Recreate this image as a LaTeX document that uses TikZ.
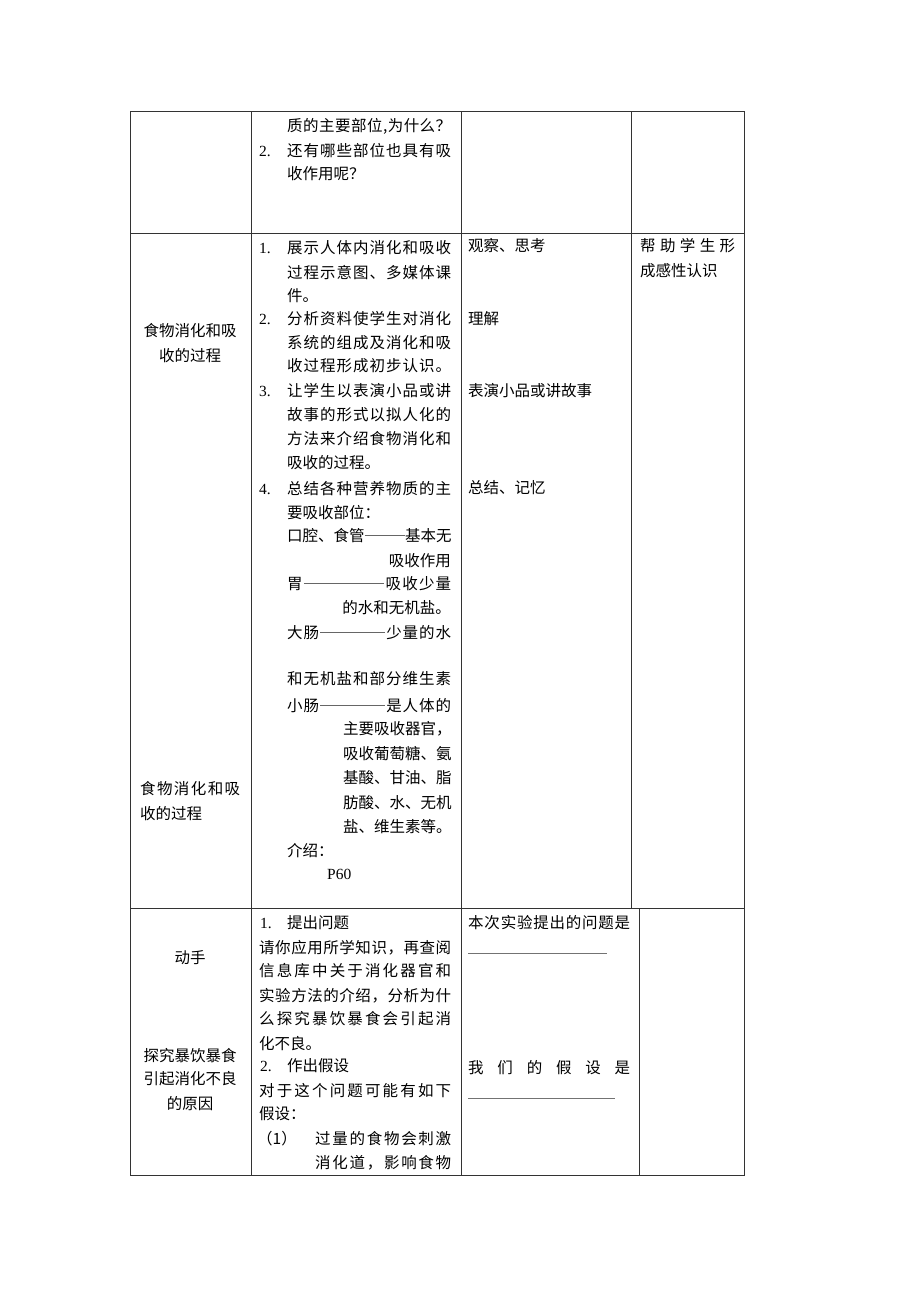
\documentclass[tikz,border=0pt]{standalone}
\usepackage{fontspec}
\setmainfont{Liberation Serif}
\newfontfamily\cjk{Noto Sans CJK SC}
\usetikzlibrary{positioning}

% spread the characters of a line over a given width
\def\spr#1{\ifx\relax#1\unskip\else#1\hfil\expandafter\spr\fi}
\newcommand\jl[2]{\makebox[#1pt][s]{\expandafter\spr#2\relax}}
% long dash, #1 characters wide
\newcommand\dsh[1]{\textcolor{black!60}{\rule[0.36em]{#1em}{0.6pt}}}

\begin{document}
\begin{tikzpicture}[x=1pt,y=-1pt,
    rule/.style={draw=black!80,line width=0.9pt},
    blank/.style={draw=black!55,line width=0.7pt},
    txt/.style={anchor=base west,inner sep=0pt,font=\cjk\fontsize{15.5}{18}\selectfont},
    txtr/.style={txt,anchor=base east},
    txtc/.style={txt,anchor=base},
    num/.style={anchor=base west,inner sep=0pt,font=\fontsize{15.5}{18}\selectfont}]

    \useasboundingbox[fill=white] (0,0) rectangle (920,1302);

    % table rules
    \draw[rule] (130,111) rectangle (744,1175);
    \draw[rule] (130,233) -- (744,233);
    \draw[rule] (130,908) -- (744,908);
    \draw[rule] (251,111) -- (251,1175);
    \draw[rule] (461,111) -- (461,1175);
    \draw[rule] (631,111) -- (631,908);
    \draw[rule] (639,908) -- (639,1175);

    % row 1
    \node[txt] (a1) at (287,131) {\jl{164}{质的主要部位,为什么？}};
    \node[num] (n2a) at (259,156) {2.};
    \node[txt] (a2) at (287,156) {\jl{164}{还有哪些部位也具有吸}};
    \node[txt] (a3) at (287,179) {收作用呢？};

    % row 2, first column
    \node[txtc] (k1) at (190,336) {食物消化和吸};
    \node[txtc] (k2) at (190,361) {收的过程};
    \node[txt] (k3) at (140,794) {\jl{100}{食物消化和吸}};
    \node[txt] (k4) at (140,819) {收的过程};

    % row 2, second column
    \foreach \y/\t [count=\i] in {253/展示人体内消化和吸收, 278/过程示意图、多媒体课,
        324/分析资料使学生对消化, 348/系统的组成及消化和吸, 371/收过程形成初步认识。,
        396/让学生以表演小品或讲, 420/故事的形式以拟人化的, 444/方法来介绍食物消化和,
        494/总结各种营养物质的主, 541/口腔、食管{\dsh{2.6}}基本无, 589/胃{\dsh{5.2}}吸收少量,
        638/大肠{\dsh{4.2}}少量的水, 684/和无机盐和部分维生素, 711/小肠{\dsh{4.2}}是人体的}
      \node[txt] (w\i) at (287,\y) {\jl{164}{\t}};
    \foreach \y/\t [count=\i] in {301/件。, 468/吸收的过程。, 518/要吸收部位：, 856/介绍：}
      \node[txt] (p\i) at (287,\y) {\t};
    \foreach \y/\t [count=\i] in {566/吸收作用, 613/的水和无机盐。}
      \node[txtr] (r\i) at (451,\y) {\t};
    \foreach \y/\t [count=\i] in {734/主要吸收器官，, 759/吸收葡萄糖、氨, 783/基酸、甘油、脂,
        808/肪酸、水、无机, 832/盐、维生素等。}
      \node[txt] (s\i) at (343,\y) {\jl{108}{\t}};
    \foreach \y/\t [count=\i] in {253/1., 324/2., 396/3., 494/4.}
      \node[num] (n\i) at (259,\y) {\t};
    \node[num] (page) at (327,879) {P60};

    % row 2, third and fourth columns
    \foreach \y/\t [count=\i] in {251/观察、思考, 324/理解, 396/表演小品或讲故事, 493/总结、记忆}
      \node[txt] (c\i) at (468,\y) {\t};
    \node[txt] (h1) at (640,251) {\jl{95}{帮助学生形}};
    \node[txt] (h2) at (640,276) {成感性认识};

    % row 3, first column
    \foreach \y/\t [count=\i] in {963/动手, 1061/探究暴饮暴食, 1084/引起消化不良, 1109/的原因}
      \node[txtc] (d\i) at (190,\y) {\t};

    % row 3, second column
    \node[num] (m1) at (260,928) {1.};
    \node[txt] (q1) at (287,928) {提出问题};
    \foreach \y/\t [count=\i] in {953/请你应用所学知识，再查阅, 976/信息库中关于消化器官和,
        1001/实验方法的介绍，分析为什, 1024/么探究暴饮暴食会引起消, 1096/对于这个问题可能有如下}
      \node[txt] (e\i) at (259,\y) {\jl{192}{\t}};
    \node[txt] (q2) at (259,1049) {化不良。};
    \node[num] (m2) at (260,1071) {2.};
    \node[txt] (q3) at (287,1071) {作出假设};
    \node[txt] (q4) at (259,1119) {假设：};
    \node[txt] (q5) at (257,1144) {（1）};
    \node[txt] (q6) at (315,1144) {\jl{136}{过量的食物会刺激}};
    \node[txt] (q7) at (315,1168) {\jl{136}{消化道，影响食物}};

    % row 3, third column
    \node[txt] (t1) at (468,928) {\jl{162}{本次实验提出的问题是}};
    \node[txt] (t2) at (468,1073) {\jl{162}{我们的假设是}};
    \coordinate (u1) at (468,953);
    \coordinate (u2) at (607,953);
    \coordinate (u3) at (468,1098);
    \coordinate (u4) at (615,1098);
    \draw[blank] (u1) -- (u2);
    \draw[blank] (u3) -- (u4);
\end{tikzpicture}
\end{document}
